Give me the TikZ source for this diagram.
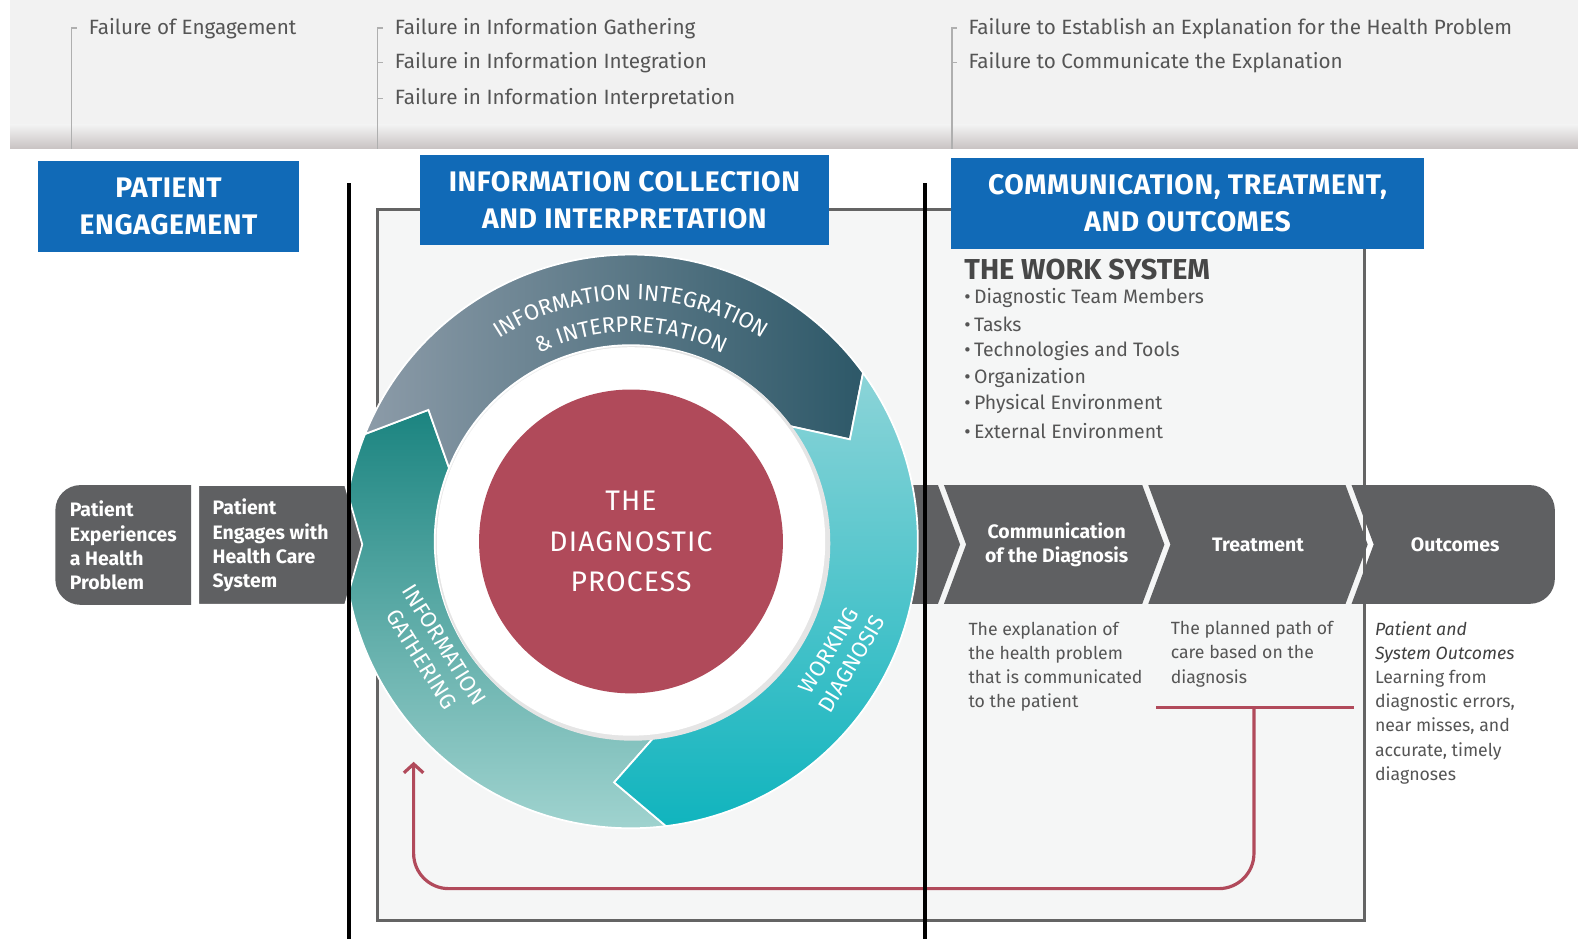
\documentclass[tikz,border=0pt]{standalone}
\usepackage{fontspec}
\setmainfont{Fira Sans}
\usetikzlibrary{positioning,calc,arrows.meta,decorations.text}

\definecolor{hdrblue}{RGB}{17,106,183}
\definecolor{bandgray}{RGB}{95,96,98}
\definecolor{txtgray}{RGB}{85,85,85}
\definecolor{fbred}{RGB}{177,74,91}
\definecolor{boxfill}{RGB}{245,246,246}
\definecolor{boxline}{RGB}{100,100,100}
\definecolor{barfill}{RGB}{242,242,242}
\definecolor{barshade}{RGB}{200,194,194}
\definecolor{brkgray}{RGB}{175,175,175}
\definecolor{gatherdark}{RGB}{27,132,128}
\definecolor{gatherlight}{RGB}{165,214,210}
\definecolor{integleft}{RGB}{140,155,168}
\definecolor{integright}{RGB}{45,88,104}
\definecolor{worklight}{RGB}{140,212,216}
\definecolor{workdark}{RGB}{16,180,190}
\definecolor{procred}{RGB}{176,74,90}

\newcommand{\ringfont}{\fontsize{12.5}{15}\selectfont}
% one arrow of the ring: tail angle, head angle (degrees, clockwise travel)
\newcommand{\ringpath}[2]{({-#1}:285) arc[start angle={-#1}, end angle={-#2}, radius=285]
  -- ({11-#2}:240) -- ({-#2}:195) arc[start angle={-#2}, end angle={-#1}, radius=195]
  -- ({11-#1}:240) -- cycle}

\tikzset{
  failure/.style={anchor=west, inner sep=0pt, text=txtgray, font=\fontsize{11.7}{13}\selectfont},
  bracket/.style={draw=brkgray, line width=0.9pt},
  header/.style={fill=hdrblue, text=white, align=center, inner sep=0pt,
    font=\fontsize{16}{21}\selectfont\bfseries\addfontfeatures{LetterSpace=2}},
  band/.style={fill=bandgray},
  bandtext/.style={text=white, inner sep=0pt, font=\fontsize{11}{13.7}\selectfont\bfseries},
  desc/.style={anchor=north west, align=left, inner sep=0pt, text=txtgray,
    font=\fontsize{10}{13.7}\selectfont},
  wsitem/.style={anchor=west, inner sep=0pt, text=txtgray, font=\fontsize{11}{15}\selectfont},
  ringlabel/.style={text=white, align=center, inner sep=0pt, font=\ringfont},
  wsbox/.style={fill=boxfill, draw=boxline, line width=1.6pt},
  feedback/.style={draw=fbred, line width=1.8pt},
  divider/.style={draw=black, line width=2.3pt},
}

\begin{document}
\begin{tikzpicture}[x=0.02cm, y=-0.02cm]
\useasboundingbox (0,0) rectangle (1568,933);
\fill[white] (0,0) rectangle (1568,933);

% failure bar
\fill[barfill] (10,0) rectangle (1568,148);
\shade[top color=barfill, bottom color=barshade] (10,124) rectangle (1568,148);
\node[failure] (fe) at (88,28) {Failure of Engagement};
\node[failure] (fg) at (392,28) {Failure in Information Gathering};
\node[failure] (fi) at (392,62) {Failure in Information Integration};
\node[failure] (fp) at (392,98) {Failure in Information Interpretation};
\node[failure] (fx) at (962,28) {Failure to Establish an Explanation for the Health Problem};
\node[failure] (fc) at (962,62) {Failure to Communicate the Explanation};
\draw[bracket] (71,148) |- ($(fe.west)+(-11,0)$);
\foreach \f in {fg,fi,fp}
  \draw[bracket] (375,148) |- ($(\f.west)+(-11,0)$);
\foreach \f in {fx,fc}
  \draw[bracket] (946,148) |- ($(\f.west)+(-11,0)$);

% work system box
\draw[wsbox] (375,208) rectangle (1356,915);

% right band
\fill[band] (880,482) -- (932,482) -- (954,541) -- (932,600) -- (880,600) -- cycle;
\fill[band] (938,482) -- (1135,482) -- (1157,541) -- (1135,600) -- (938,600) -- (960,541) -- cycle;
\fill[band] (1141,482) -- (1337,482) -- (1359,541) -- (1337,600) -- (1141,600) -- (1163,541) -- cycle;
\fill[band] (1343,482) [rounded corners=0.5cm] -- (1545,482) -- (1545,600)
  [sharp corners] -- (1343,600) -- (1365,541) -- cycle;
\node[bandtext, align=center] (comm) at (1050,541) {Communication\\of the Diagnosis};
\node[bandtext] (treat) at (1250,541) {Treatment};
\node[bandtext] (outc) at (1446,541) {Outcomes};

% the ring
\begin{scope}[shift={(627,538)}]
  \path[top color=gatherdark, middle color=gatherdark, bottom color=gatherlight,
    draw=white, line width=1pt] \ringpath{277}{158};
  \path[left color=integleft, middle color=integright!85!integleft, right color=integright,
    draw=white, line width=1pt] \ringpath{158}{36};
  \path[top color=worklight, middle color=workdark, bottom color=workdark,
    draw=white, line width=1pt] \ringpath{396}{277};
  \fill[black!10] (2,2) circle[radius=196];
  \fill[white] (0,0) circle[radius=193];
  \node[circle, fill=procred, minimum size=6.04cm, inner sep=0pt, text=white, align=center,
    font=\fontsize{16}{22.8}\selectfont\addfontfeatures{LetterSpace=4}] (dp) at (0,0)
    {THE\\DIAGNOSTIC\\PROCESS};
  \path[decorate, decoration={text along path, text align=center,
    text={|\color{white}\ringfont|INFORMATION INTEGRATION}}]
    (-150:240) arc[start angle=-150, end angle=-30, radius=240];
  \path[decorate, decoration={text along path, text align=center,
    text={|\color{white}\ringfont|{\&} INTERPRETATION}}]
    (-150:208) arc[start angle=-150, end angle=-30, radius=208];
\end{scope}
\node[ringlabel, rotate=-58] (igtxt) at (430,648) {INFORMATION\\GATHERING};
\node[ringlabel, rotate=59] (wdtxt) at (835,653) {WORKING\\DIAGNOSIS};

% left band
\fill[band] (190,482) [rounded corners=0.5cm] -- (55,482) -- (55,601)
  [sharp corners] -- (190,601) -- cycle;
\filldraw[band, draw=white, line width=1pt] (197,482) -- (343,482) -- (360,541) -- (343,601)
  -- (197,601) -- cycle;
\node[bandtext, anchor=west, align=left] (pe1) at (69,542) {Patient\\Experiences\\a Health\\Problem};
\node[bandtext, anchor=west, align=left] (pe2) at (211,542) {Patient\\Engages with\\Health Care\\System};

% headers
\node[header, minimum width=5.18cm, minimum height=1.8cm] (hpe) at (167.5,205) {PATIENT\\ENGAGEMENT};
\node[header, minimum width=8.14cm, minimum height=1.78cm] (hic) at (620.5,198.5) {INFORMATION COLLECTION\\AND INTERPRETATION};
\node[header, minimum width=9.4cm, minimum height=1.8cm] (hct) at (1180,202) {COMMUNICATION, TREATMENT,\\AND OUTCOMES};

% work system
\node[anchor=west, inner sep=0pt, text=black!72, font=\fontsize{16.3}{18}\selectfont\bfseries]
  (ws) at (958,268) {THE WORK SYSTEM};
\foreach \itm [count=\i] in {Diagnostic Team Members, Tasks, Technologies and Tools,
    Organization, Physical Environment, External Environment}
  \node[wsitem] (ws\i) at (958,{269.6+26.4*\i}) {\textbullet\,\itm};

% descriptions under the band
\node[desc] (dcomm) at (962,617) {The explanation of\\the health problem\\that is communicated\\to the patient};
\node[desc] (dtreat) at (1163,617) {The planned path of\\care based on the\\diagnosis};
\node[desc] (doutc) at (1366,617) {{\color{black!75}\itshape Patient and}\\{\color{black!75}\itshape System Outcomes}\\Learning from\\diagnostic errors,\\near misses, and\\accurate, timely\\diagnoses};

% feedback loop
\coordinate (fbl) at (1149,703);
\coordinate (fbr) at (1345,703);
\coordinate (fbs) at (1246,703);
\coordinate (fbe) at (411,757);
\draw[feedback] (fbl) -- (fbr);
\draw[feedback, rounded corners=0.7cm, -{Straight Barb[length=5pt,width=11pt]}]
  (fbs) -- (1246,883) -- (411,883) -- (fbe);

% phase dividers
\draw[divider] (347,182) -- (347,933);
\draw[divider] (919,182) -- (919,933);
\end{tikzpicture}
\end{document}
